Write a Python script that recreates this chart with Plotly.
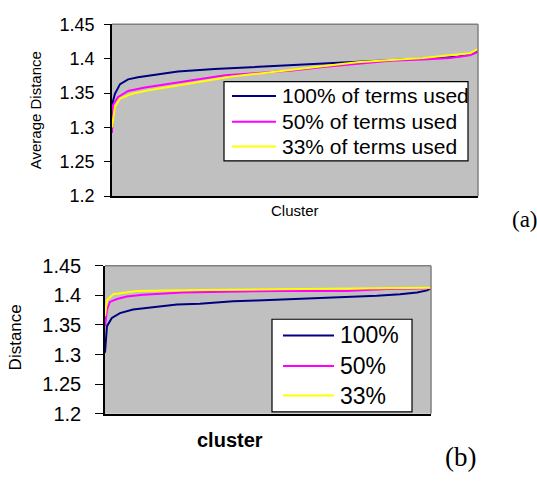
import plotly.graph_objects as go

# ---------------- data ----------------
# (a) Average Distance vs cluster (x = position along the sorted cluster list, %)
a_x_100 = [0, 0.8, 2.2, 4.4, 7.1, 11.7, 18, 28, 35.5, 43.7, 59.6, 71.3, 78.7, 86.9, 94.3, 98.6, 100]
a_y_100 = [1.333, 1.349, 1.363, 1.370, 1.373, 1.377, 1.3815, 1.385, 1.387, 1.389, 1.393, 1.396,
           1.399, 1.401, 1.403, 1.407, 1.413]
a_x_50 = [0, 0.3, 1.6, 4.4, 9.0, 16.4, 23.5, 30.9, 39.1, 49.2, 57.7, 66.9, 76.0, 85.0, 92.3, 97.8, 100]
a_y_50 = [1.292, 1.333, 1.344, 1.353, 1.358, 1.364, 1.370, 1.376, 1.379, 1.383, 1.388, 1.393,
          1.397, 1.399, 1.401, 1.405, 1.410]
a_x_33 = [0, 0.8, 2.2, 5.5, 10.9, 18.0, 25.4, 32.8, 41.0, 49.2, 57.7, 66.9, 76.0, 85.0, 92.3, 97.8, 100]
a_y_33 = [1.300, 1.330, 1.342, 1.349, 1.355, 1.3615, 1.368, 1.374, 1.379, 1.384, 1.389, 1.395,
          1.398, 1.401, 1.405, 1.408, 1.414]

# (b) Distance vs cluster
b_x_100 = [0, 0.6, 2.1, 4.6, 8.6, 13.8, 22.1, 29.1, 39.3, 46.6, 53.7, 60.7, 73.0, 83.4, 90.5, 95.7, 98.8, 100]
b_y_100 = [1.303, 1.348, 1.362, 1.370, 1.376, 1.3795, 1.3845, 1.386, 1.390, 1.3915, 1.393, 1.394,
           1.397, 1.3995, 1.402, 1.405, 1.4085, 1.412]
b_x_50 = [0, 0.6, 1.5, 3.7, 6.7, 11.7, 23.9, 39.3, 53.7, 74.2, 86.5, 100]
b_y_50 = [1.348, 1.376, 1.389, 1.394, 1.398, 1.401, 1.405, 1.406, 1.4075, 1.4075, 1.411, 1.412]
b_x_33 = [0, 0.6, 2.5, 6.7, 9.8, 29.1, 46.6, 53.7, 85.3, 100]
b_y_33 = [1.365, 1.392, 1.402, 1.405, 1.4075, 1.409, 1.410, 1.411, 1.413, 1.413]

legend_a_labels = ["100% of terms used", "50% of terms used", "33% of terms used"]
legend_b_labels = ["100%", "50%", "33%"]
series_colors = ["#000080", "#FF00FF", "#FFFF00"]
y_ticks = [1.2, 1.25, 1.3, 1.35, 1.4, 1.45]

# ---------------- figure ----------------
W, H = 537, 482
def px(x): return x / W
def py(y): return 1 - y / H

FONT = "Arial, 'Liberation Sans', sans-serif"
SERIF = "'Times New Roman', 'Liberation Serif', serif"

fig = go.Figure()
series_a = [(a_x_100, a_y_100), (a_x_50, a_y_50), (a_x_33, a_y_33)]
series_b = [(b_x_100, b_y_100), (b_x_50, b_y_50), (b_x_33, b_y_33)]
for (xs, ys), c, n in zip(series_a, series_colors, legend_a_labels):
    fig.add_trace(go.Scatter(x=xs, y=ys, mode="lines", line=dict(color=c, width=2),
                             name=n, xaxis="x", yaxis="y", showlegend=False))
for (xs, ys), c, n in zip(series_b, series_colors, legend_b_labels):
    fig.add_trace(go.Scatter(x=xs, y=ys, mode="lines", line=dict(color=c, width=2),
                             name=n, xaxis="x2", yaxis="y2", showlegend=False))

A = dict(l=112, r=478, t=14, b=194)
B = dict(l=105, r=431, t=267, b=422)

common_x = dict(range=[0, 100], showgrid=False, zeroline=False, showticklabels=False,
                ticks="", showline=True, linecolor="black", linewidth=1.5)
common_y = dict(range=[1.2, 1.45], tickvals=y_ticks, ticktext=[f"{v:g}" for v in y_ticks],
                showgrid=False, zeroline=False, ticks="outside", tickcolor="black",
                showline=True, linecolor="black", linewidth=1.5)

fig.update_layout(
    width=W, height=H, autosize=False,
    margin=dict(l=0, r=0, t=0, b=0),
    paper_bgcolor="white", plot_bgcolor="#C0C0C0",
    showlegend=False,
    xaxis=dict(domain=[px(A["l"]), px(A["r"])], anchor="y", **common_x),
    yaxis=dict(domain=[py(A["b"]), py(A["t"])], anchor="x", ticklen=6, ticklabelstandoff=6,
               tickfont=dict(family=FONT, size=18, color="black"), **common_y),
    xaxis2=dict(domain=[px(B["l"]), px(B["r"])], anchor="y2", **common_x),
    yaxis2=dict(domain=[py(B["b"]), py(B["t"])], anchor="x2", ticklen=8, ticklabelstandoff=10,
                tickfont=dict(family=FONT, size=20, color="black"), **common_y),
)

shapes = []
annotations = []
# gray frame top/right
for P in (A, B):
    shapes.append(dict(type="line", xref="paper", yref="paper", x0=px(P["l"]), x1=px(P["r"]),
                       y0=py(P["t"]), y1=py(P["t"]), line=dict(color="#808080", width=1.5), layer="above"))
    shapes.append(dict(type="line", xref="paper", yref="paper", x0=px(P["r"]), x1=px(P["r"]),
                       y0=py(P["t"]), y1=py(P["b"]), line=dict(color="#808080", width=1.5), layer="above"))

# legends (manual boxes)
def legend(box, line_x0, line_x1, text_x, rows, labels, size):
    shapes.append(dict(type="rect", xref="paper", yref="paper", x0=px(box[0]), x1=px(box[2]),
                       y0=py(box[3]), y1=py(box[1]), fillcolor="white",
                       line=dict(color="black", width=1.2), layer="above"))
    for ry, lab, c in zip(rows, labels, series_colors):
        shapes.append(dict(type="line", xref="paper", yref="paper", x0=px(line_x0), x1=px(line_x1),
                           y0=py(ry), y1=py(ry), line=dict(color=c, width=2), layer="above"))
        annotations.append(dict(xref="paper", yref="paper", x=px(text_x), y=py(ry), text=lab,
                                showarrow=False, xanchor="left", yanchor="middle",
                                font=dict(family=FONT, size=size, color="black")))

legend((224, 74, 468, 157), 232, 276, 280, (89, 116, 142), legend_a_labels, 21)
legend((272, 323, 412, 420), 283, 334, 338, (340, 372, 403), legend_b_labels, 23)

# axis titles and panel labels
annotations += [
    dict(x=px(35), y=py(104), text="Average Distance", textangle=-90,
         font=dict(family=FONT, size=15, color="black")),
    dict(x=px(295), y=py(209), text="Cluster", font=dict(family=FONT, size=15, color="black")),
    dict(x=px(525), y=py(218), text="(a)", font=dict(family=SERIF, size=23, color="black")),
    dict(x=px(15), y=py(342), text="Distance", textangle=-90,
         font=dict(family=FONT, size=17, color="black")),
    dict(x=px(230), y=py(449), text="<b>cluster</b>", font=dict(family=FONT, size=20, color="black")),
    dict(x=px(460), y=py(467), text="(b)", font=dict(family=SERIF, size=27, color="black")),
]
for a in annotations[-6:]:
    a.update(xref="paper", yref="paper", showarrow=False, xanchor="center", yanchor="middle")

fig.update_layout(shapes=shapes, annotations=annotations)
fig.write_html("out.html")
